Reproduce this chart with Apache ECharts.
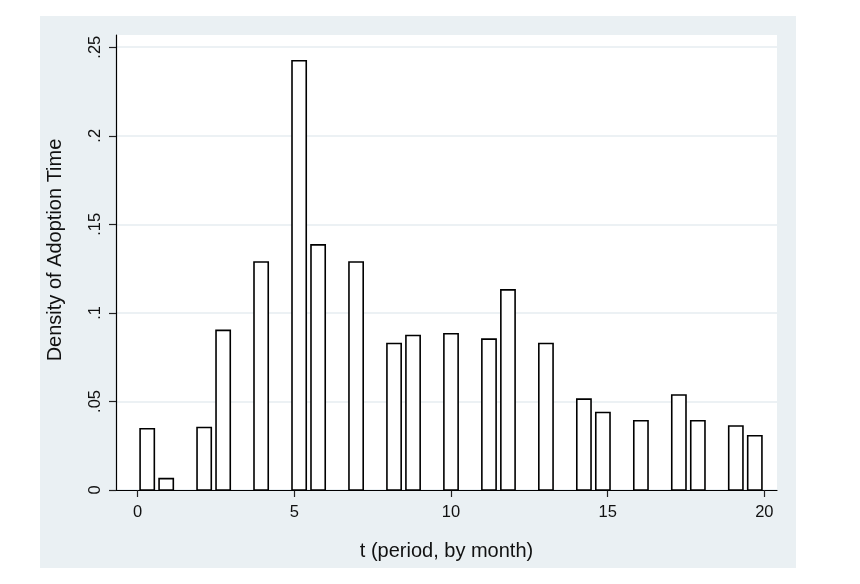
<!DOCTYPE html>
<html>
<head>
<meta charset="utf-8">
<script src="https://cdn.jsdelivr.net/npm/echarts@6/dist/echarts.min.js"></script>
<style>
html,body{margin:0;padding:0;background:#fff;}
#chart{width:860px;height:584px;}
</style>
</head>
<body>
<div id="chart"></div>
<script>
// Histogram bins (bin centers, months) and densities
const binCenters = [0.303, 0.909, 2.121, 2.727, 3.939, 5.152, 5.758, 6.970, 8.182, 8.788,
                    10.000, 11.212, 11.818, 13.030, 14.242, 14.848, 16.061, 17.273, 17.879, 19.091, 19.697];
const densities  = [0.0346, 0.0064, 0.0353, 0.0901, 0.1287, 0.2424, 0.1384, 0.1287, 0.0827, 0.0872,
                    0.0882, 0.0852, 0.1130, 0.0827, 0.0513, 0.0438, 0.0391, 0.0536, 0.0391, 0.0361, 0.0306];
const binWidth = 20 / 33;
const xTicks = [0, 5, 10, 15, 20];
const yTicks = [0, 0.05, 0.1, 0.15, 0.2, 0.25];
const yTickLabels = ['0', '.05', '.1', '.15', '.2', '.25'];
const xTitle = 't (period, by month)';
const yTitle = 'Density of Adoption Time';

const barFrac = 0.75;
const FONT = '"Liberation Sans", Arial, Helvetica, sans-serif';

const chart = echarts.init(document.getElementById('chart'), null, {renderer: 'canvas'});
const data = binCenters.map((c, i) => [c, densities[i]]);

chart.setOption({
  animation: false,
  backgroundColor: '#ffffff',
  graphic: [{
    type: 'rect', z: -10, silent: true,
    shape: {x: 40, y: 16, width: 756, height: 552},
    style: {fill: '#eaf0f3'}
  }],
  grid: {
    left: 116, right: 83, top: 35, bottom: 94,
    show: true, backgroundColor: '#ffffff', borderWidth: 0
  },
  xAxis: {
    type: 'value',
    min: -0.693, max: 20.405,
    name: xTitle,
    nameLocation: 'middle',
    nameGap: 51,
    nameTextStyle: {fontFamily: FONT, fontSize: 20, color: '#111'},
    axisLine: {show: true, onZero: false, lineStyle: {color: '#000', width: 1.2}},
    axisTick: {show: true, length: 7, customValues: xTicks, lineStyle: {color: '#222', width: 1.2}},
    axisLabel: {customValues: xTicks, margin: 14, fontFamily: FONT, fontSize: 16.5, color: '#111',
                formatter: v => String(v)},
    splitLine: {show: false}
  },
  yAxis: {
    type: 'value',
    min: 0, max: 0.2569,
    name: yTitle,
    nameLocation: 'middle',
    nameGap: 51,
    nameTextStyle: {fontFamily: FONT, fontSize: 20, color: '#111', padding: [0, 0, 0, 25]},
    axisLine: {show: true, onZero: false, lineStyle: {color: '#000', width: 1.2}},
    axisTick: {show: true, length: 7, customValues: yTicks, lineStyle: {color: '#222', width: 1.2}},
    axisLabel: {customValues: yTicks, rotate: 90, margin: 12, fontFamily: FONT, fontSize: 16.5, color: '#111',
                formatter: v => {
                  const i = yTicks.findIndex(t => Math.abs(t - v) < 1e-9);
                  return i >= 0 ? yTickLabels[i] : '';
                }},
    splitLine: {show: true, lineStyle: {color: '#e6edf0', width: 1.5}}
  },
  series: [{
    type: 'custom',
    data: data,
    encode: {x: 0, y: 1},
    clip: false,
    renderItem: function (params, api) {
      const c = api.value(0), h = api.value(1);
      const half = binWidth * barFrac / 2;
      const p0 = api.coord([c - half, h]);
      const p1 = api.coord([c + half, 0]);
      return {
        type: 'rect',
        shape: {x: p0[0], y: p0[1], width: p1[0] - p0[0], height: p1[1] - p0[1]},
        style: {fill: '#ffffff', stroke: '#000000', lineWidth: 1.6}
      };
    }
  }]
});
</script>
</body>
</html>
